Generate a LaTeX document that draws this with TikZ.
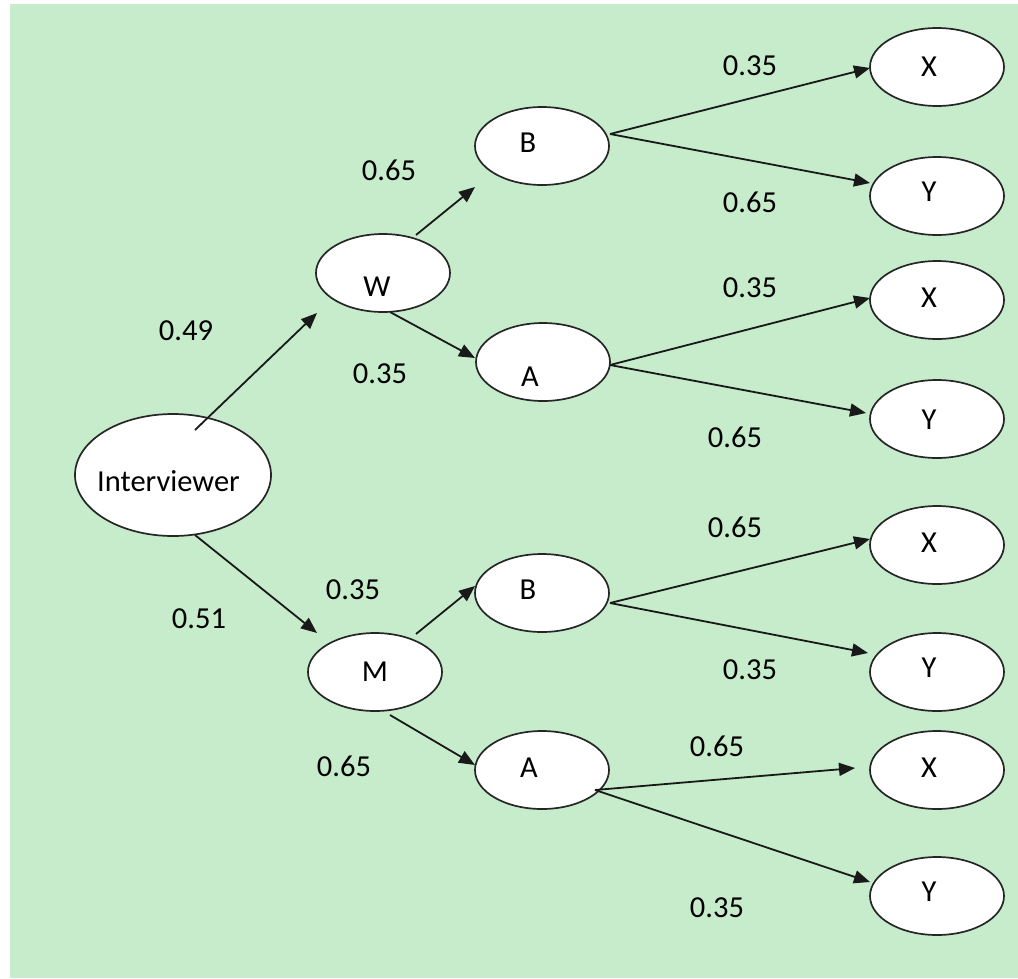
\documentclass[tikz,border=0pt]{standalone}
\usepackage{fontspec}
\setmainfont{Carlito}
\usetikzlibrary{shapes.geometric,arrows.meta,calc}
\definecolor{bggreen}{RGB}{198,236,204}
\begin{document}
\begin{tikzpicture}[x=1pt,y=-1pt,
  txt/.style={font=\fontsize{30.5}{36}\selectfont, inner sep=0pt, text=black},
  oval/.style={ellipse, draw=black!85, line width=1.7pt, fill=white,
    minimum width=134pt, minimum height=78pt, inner sep=0pt},
  bigoval/.style={oval, minimum width=196pt, minimum height=122pt},
  every label/.style={txt},
  arr/.style={line width=1.8pt, draw=black!90, -{Triangle[length=16pt,width=13pt]}}]
\useasboundingbox (0,0) rectangle (1018,978);
\fill[bggreen] (10,4) rectangle (1018,978);
% nodes
\node[bigoval, label={[xshift=-4.5pt,yshift=-6pt]center:Interviewer}] (Int) at (173,475) {};
\node[oval, label={[xshift=-6pt,yshift=-14pt]center:W}] (W) at (383,273) {};
\node[oval, label={[xshift=0pt,yshift=0pt]center:M}] (M) at (375,672) {};
\node[oval, label={[xshift=-14pt,yshift=3pt]center:B}] (B1) at (542,146) {};
\node[oval, label={[xshift=-13pt,yshift=-15pt]center:A}] (A1) at (543,362) {};
\node[oval, label={[xshift=-14pt,yshift=3pt]center:B}] (B2) at (542,593) {};
\node[oval, label={[xshift=-13pt,yshift=2pt]center:A}] (A2) at (542,770) {};
\node[oval, label={[xshift=-8pt,yshift=0pt]center:X}] (X1) at (937,67) {};
\node[oval, label={[xshift=-8pt,yshift=4pt]center:Y}] (Y1) at (937,196) {};
\node[oval, label={[xshift=-8pt,yshift=2pt]center:X}] (X2) at (937,300) {};
\node[oval, label={[xshift=-8pt,yshift=-1pt]center:Y}] (Y2) at (937,419) {};
\node[oval, label={[xshift=-8pt,yshift=2pt]center:X}] (X3) at (937,545) {};
\node[oval, label={[xshift=-8pt,yshift=4pt]center:Y}] (Y3) at (937,672) {};
\node[oval, label={[xshift=-8pt,yshift=2pt]center:X}] (X4) at (937,770) {};
\node[oval, label={[xshift=-8pt,yshift=4pt]center:Y}] (Y4) at (937,896) {};
% connectors
\draw[arr] ($(Int)+(22,-45)$) -- ($(W)+(-66,40)$);
\draw[arr] ($(Int)+(22,60)$) -- ($(M)+(-58,-39)$);
\draw[arr] ($(W)+(33,-38)$) -- ($(B1)+(-67,41)$);
\draw[arr] ($(W)+(7,39)$) -- ($(A1)+(-68,-4)$);
\draw[arr] ($(M)+(41,-38)$) -- ($(B2)+(-67,-7)$);
\draw[arr] ($(M)+(15,43)$) -- ($(A2)+(-67,-5)$);
\draw[arr] ($(B1)+(68,-12)$) -- ($(X1)+(-67,1)$);
\draw[arr] ($(B1)+(68,-12)$) -- ($(Y1)+(-67,-13)$);
\draw[arr] ($(A1)+(67,3)$) -- ($(X2)+(-67,-2)$);
\draw[arr] ($(A1)+(67,3)$) -- ($(Y2)+(-71,-6)$);
\draw[arr] ($(B2)+(68,10)$) -- ($(X3)+(-67,-6)$);
\draw[arr] ($(B2)+(68,10)$) -- ($(Y3)+(-69,-19)$);
\draw[arr] ($(A2)+(53,20)$) -- ($(X4)+(-82,-2)$);
\draw[arr] ($(A2)+(53,20)$) -- ($(Y4)+(-67,-14)$);
% probabilities
\node[txt] (p1) at (186,331) {0.49};
\node[txt] (p2) at (199,619) {0.51};
\node[txt] (p3) at (389,170) {0.65};
\node[txt] (p4) at (380,374) {0.35};
\node[txt] (p5) at (353,590) {0.35};
\node[txt] (p6) at (344,766) {0.65};
\node[txt] (p7) at (750,66) {0.35};
\node[txt] (p8) at (750,202) {0.65};
\node[txt] (p9) at (750,288) {0.35};
\node[txt] (p10) at (735,437) {0.65};
\node[txt] (p11) at (735,527) {0.65};
\node[txt] (p12) at (750,670) {0.35};
\node[txt] (p13) at (717,746) {0.65};
\node[txt] (p14) at (717,908) {0.35};
\end{tikzpicture}
\end{document}
